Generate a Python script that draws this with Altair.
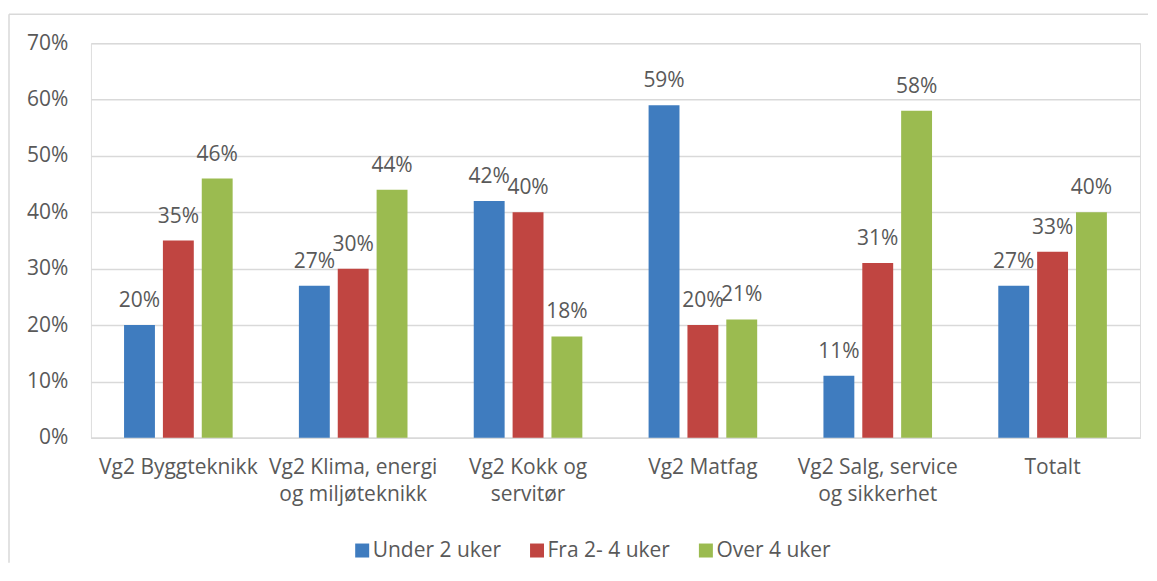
import altair as alt
import pandas as pd

categories = [
    "Vg2 Byggteknikk",
    "Vg2 Klima, energi|og miljøteknikk",
    "Vg2 Kokk og|servitør",
    "Vg2 Matfag",
    "Vg2 Salg, service|og sikkerhet",
    "Totalt",
]
series = ["Under 2 uker", "Fra 2- 4 uker", "Over 4 uker"]
under_2 = [0.20, 0.27, 0.42, 0.59, 0.11, 0.27]
fra_2_4 = [0.35, 0.30, 0.40, 0.20, 0.31, 0.33]
over_4 = [0.46, 0.44, 0.18, 0.21, 0.58, 0.40]
colors = ["#3F7CBF", "#C04541", "#9BBB50"]
y_ticks = [0, 0.1, 0.2, 0.3, 0.4, 0.5, 0.6, 0.7]

rows = []
for s, vals in zip(series, [under_2, fra_2_4, over_4]):
    for c, v in zip(categories, vals):
        rows.append({"cat": c, "series": s, "value": v})
df = pd.DataFrame(rows)

FONT = "Open Sans"
GRAY = "#595959"
LINE = "#D9D9D9"
FS = 21

x_enc = alt.X(
    "cat:N",
    sort=categories,
    title=None,
    scale=alt.Scale(paddingInner=1 / 3, paddingOuter=1 / 6),
    axis=alt.Axis(
        labelExpr="split(datum.value, '|')",
        labelAngle=0,
        labelFont=FONT,
        labelFontSize=FS,
        labelColor=GRAY,
        labelPadding=19,
        labelLineHeight=27,
        labelLimit=300,
        ticks=False,
        domainColor=LINE,
        domainWidth=1.5,
        grid=False,
    ),
)
xo_enc = alt.XOffset(
    "series:N",
    sort=series,
    scale=alt.Scale(paddingInner=0.205, paddingOuter=0.1025),
)
y_enc = alt.Y(
    "value:Q",
    title=None,
    scale=alt.Scale(domain=[0, 0.7], nice=False),
    axis=alt.Axis(
        values=y_ticks,
        format=".0%",
        labelFont=FONT,
        labelFontSize=FS,
        labelColor=GRAY,
        labelPadding=23,
        ticks=False,
        domain=False,
        gridColor=LINE,
        gridWidth=1.5,
    ),
)

base = alt.Chart(df)

bars = base.mark_bar().encode(
    x=x_enc,
    xOffset=xo_enc,
    y=y_enc,
    color=alt.Color(
        "series:N",
        sort=series,
        scale=alt.Scale(domain=series, range=colors),
        legend=alt.Legend(
            title=None,
            orient="none",
            legendX=261,
            legendY=497,
            direction="horizontal",
            symbolType="square",
            symbolSize=196,
            symbolStrokeWidth=0,
            labelFont=FONT,
            labelFontSize=FS,
            labelColor=GRAY,
            labelOffset=0,
            columnPadding=25,
            labelLimit=300,
        ),
    ),
)

labels = base.mark_text(
    font=FONT, fontSize=FS, color=GRAY, baseline="alphabetic", dy=-18
).encode(
    x=alt.X("cat:N", sort=categories),
    xOffset=alt.XOffset("series:N", sort=series),
    y=alt.Y("value:Q"),
    text=alt.Text("value:Q", format=".0%"),
)

frame_df = pd.DataFrame({"k": [0]})
top_line = alt.Chart(frame_df).mark_rule(color=LINE, strokeWidth=1.5).encode(
    x=alt.value(-82), x2=alt.value(1058), y=alt.value(-29)
)
left_line = alt.Chart(frame_df).mark_rule(color=LINE, strokeWidth=1.5).encode(
    x=alt.value(-82), y=alt.value(-29), y2=alt.value(520)
)

chart = (
    alt.layer(bars, labels, top_line, left_line)
    .properties(
        width=1050,
        height=395,
        padding={"left": 0, "top": 5, "right": 0, "bottom": 0},
    )
    .configure_view(stroke=None)
    .configure(background="white")
)

chart.save("out.html", embed_options={"renderer": "svg", "actions": False})
